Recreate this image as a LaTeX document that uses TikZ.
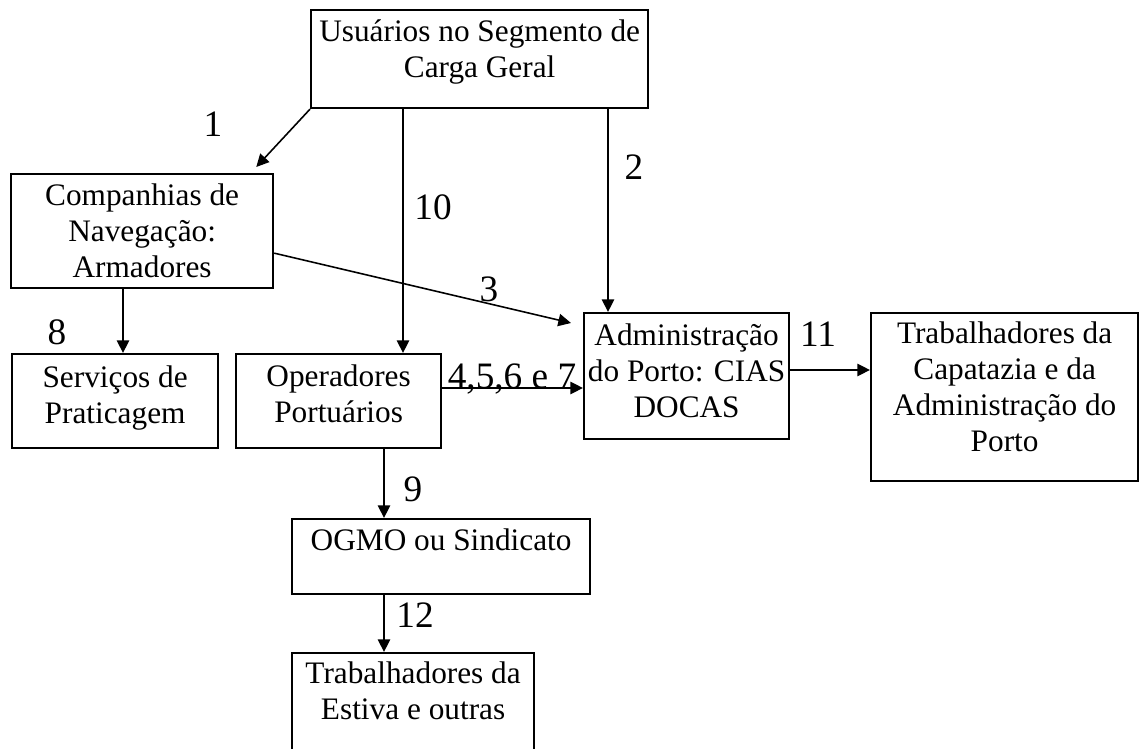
\documentclass[tikz,border=0pt]{standalone}
\usepackage{fontspec}
\setmainfont{Liberation Serif}
\usetikzlibrary{arrows.meta,calc}
\begin{document}
\begin{tikzpicture}[x=0.01cm,y=-0.01cm,
  box/.style={draw, line width=0.6pt, inner sep=0pt, anchor=north west},
  txt/.style={inner sep=0pt, align=center, anchor=north, font=\fontsize{8.9pt}{10.3pt}\selectfont},
  num/.style={inner sep=0pt, anchor=base, font=\fontsize{10.6pt}{12pt}\selectfont},
  arr/.style={line width=0.45pt, -{Triangle[length=3.6pt,width=3.5pt]}}]
\useasboundingbox (0,0) rectangle (1139,749);

% boxes
\node[box, minimum width=3.37cm, minimum height=0.98cm] (usu) at (310,9) {};
\node[box, minimum width=2.62cm, minimum height=1.14cm] (comp) at (10,173) {};
\node[box, minimum width=2.06cm, minimum height=0.94cm] (serv) at (11,353) {};
\node[box, minimum width=2.05cm, minimum height=0.94cm] (op) at (235,353) {};
\node[box, minimum width=2.05cm, minimum height=1.26cm] (adm) at (583,312) {};
\node[box, minimum width=2.67cm, minimum height=1.68cm] (trab) at (870,312) {};
\node[box, minimum width=2.98cm, minimum height=0.75cm] (ogmo) at (291,518) {};
\node[box, minimum width=2.42cm, minimum height=1.10cm] (est) at (291,652) {};

% texts
\node[txt] (usut) at ($(usu.north)+(0,6)$) {\strut Usuários no Segmento de\\Carga Geral};
\node[txt] (compt) at ($(comp.north)+(0,6)$) {\strut Companhias de\\Navegação:\\Armadores};
\node[txt] (servt) at ($(serv.north)+(0,8)$) {\strut Serviços de\\Praticagem};
\node[txt] (opt) at ($(op.north)+(0,7)$) {\strut Operadores\\Portuários};
\node[txt] (admt) at ($(adm.north)+(0,7)$) {\strut Administração\\do Porto: CIAS\\DOCAS};
\node[txt] (trabt) at ($(trab.north)+(0,5)$) {\strut Trabalhadores da\\Capatazia e da\\Administração do\\Porto};
\node[txt] (ogmot) at ($(ogmo.north)+(0,6)$) {\strut OGMO ou Sindicato};
\node[txt] (estt) at ($(est.north)+(0,5)$) {\strut Trabalhadores da\\Estiva e outras};

% helper coordinates for vertical / horizontal connectors
\coordinate (x10) at (403,0);
\coordinate (x2) at (608,0);
\coordinate (x8) at (123,0);
\coordinate (x9) at (384,0);
\coordinate (y47) at (0,388);
\coordinate (y11) at (0,370);

% connectors
\draw[arr] (usu.south west) -- ($(comp.north east)+(-18,-6)$);
\draw[arr] (usu.south -| x10) -- (op.north -| x10);
\draw[arr] (usu.south -| x2) -- (adm.north -| x2);
\draw[arr] ($(comp.north east)!0.69!(comp.south east)$) -- ($(adm.north west)+(-12,11)$);
\draw[arr] (comp.south -| x8) -- (serv.north -| x8);
\draw[arr] (op.east |- y47) -- (adm.west |- y47);
\draw[arr] (adm.east |- y11) -- (trab.west |- y11);
\draw[arr] (op.south -| x9) -- (ogmo.north -| x9);
\draw[arr] (ogmo.south -| x9) -- (est.north -| x9);

% labels
\node[num] (l1) at (213,137) {1};
\node[num] (l2) at (634,180) {2};
\node[num] (l10) at (433,220) {10};
\node[num] (l3) at (489,302) {3};
\node[num] (l8) at (57,345) {8};
\node[num] (l47) at (512,389) {4,5,6 e 7};
\node[num] (l11) at (818,347) {11};
\node[num] (l9) at (413,502) {9};
\node[num] (l12) at (415,627) {12};
\end{tikzpicture}
\end{document}
